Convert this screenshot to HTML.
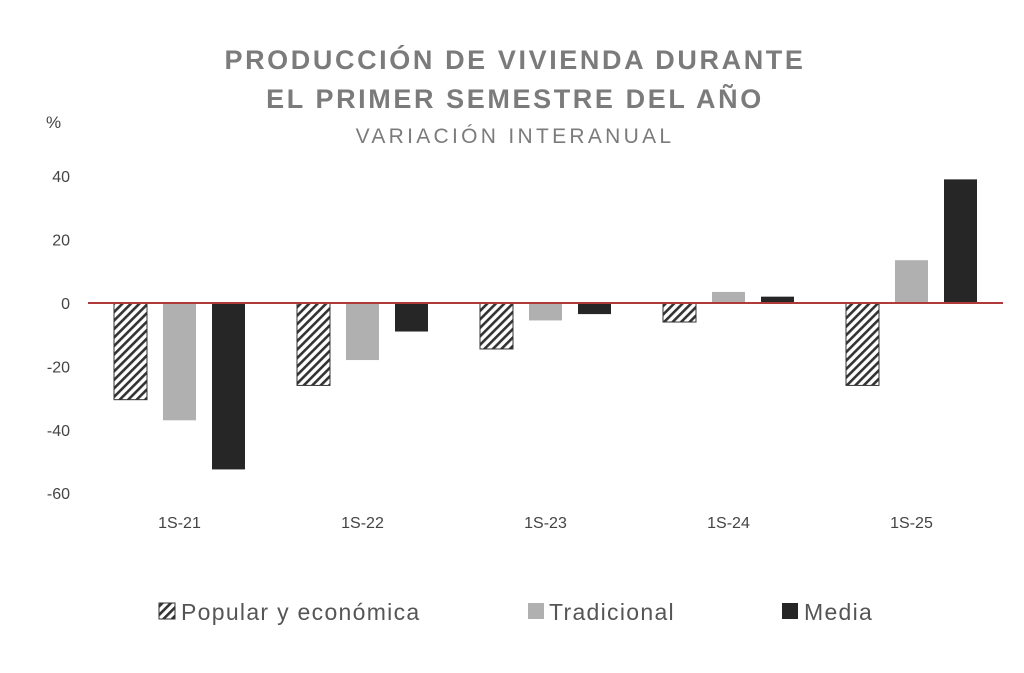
<!DOCTYPE html>
<html><head><meta charset="utf-8"><style>
body{margin:0;background:#fff;}
svg{display:block;font-family:"Liberation Sans",sans-serif;}
</style></head><body>
<svg id="chart" width="1024" height="673" viewBox="0 0 1024 673">
<defs>
<pattern id="hatch" patternUnits="userSpaceOnUse" width="6" height="6" patternTransform="rotate(45)">
<rect width="6" height="6" fill="#fff"/><rect width="2.6" height="6" fill="#333"/>
</pattern>
</defs>
<g fill="#7b7b7b" text-anchor="middle">
<text x="515" y="69" font-size="27" font-weight="bold" letter-spacing="2.6">PRODUCCIÓN DE VIVIENDA DURANTE</text>
<text x="515" y="108" font-size="27" font-weight="bold" letter-spacing="2.6">EL PRIMER SEMESTRE DEL AÑO</text>
<text x="515" y="143" font-size="21" letter-spacing="3.3">VARIACIÓN INTERANUAL</text>
</g>
<text x="46" y="128" font-size="17" fill="#444">%</text>
<g id="yaxis"></g>
<g id="bars"></g>
<g id="xaxis"></g>
<g font-size="23" fill="#555" letter-spacing="1.3">
<g><rect x="159" y="603" width="16" height="16" fill="url(#hatch)" stroke="#333" stroke-width="1"/><text x="181" y="620">Popular y económica</text></g>
<g><rect x="528" y="603" width="16" height="16" fill="#b0b0b0"/><text x="549" y="620">Tradicional</text></g>
<g><rect x="782" y="603" width="16" height="16" fill="#262626"/><text x="804" y="620">Media</text></g>
</g>
</svg>
<script>
const categories=["1S-21","1S-22","1S-23","1S-24","1S-25"];
const popular=[-30.5,-26,-14.5,-6,-26];
const tradicional=[-37,-18,-5.5,3.5,13.5];
const media=[-52.5,-9,-3.5,2,39];
const yTicks=[40,20,0,-20,-40,-60];
const NS="http://www.w3.org/2000/svg";
const x0=88,x1=1003,band=(x1-x0)/categories.length;
function y(v){return 303-v*3.17;}
function mk(t,a,p){const e=document.createElementNS(NS,t);for(const k in a)e.setAttribute(k,a[k]);p.appendChild(e);return e;}
const ya=document.getElementById('yaxis'),ba=document.getElementById('bars'),xa=document.getElementById('xaxis');
yTicks.forEach(v=>{const t=mk('text',{x:70,y:y(v)+6,'text-anchor':'end','font-size':16,fill:'#444'},ya);t.textContent=v;

});
const series=[[popular,'url(#hatch)','popular'],[tradicional,'#b0b0b0','tradicional'],[media,'#262626','media']];
const bw=33,step=49;
categories.forEach((c,i)=>{const cx=x0+band*(i+0.5);
series.forEach((s,j)=>{const v=s[0][i];const bx=cx-step+j*step-bw/2;
const r=mk('rect',{x:bx,y:Math.min(y(v),y(0)),width:bw,height:Math.abs(y(v)-y(0)),fill:s[1]},ba);
if(j==0){r.setAttribute('stroke','#333');r.setAttribute('stroke-width','1');}

});
const t=mk('text',{x:cx,y:528,'text-anchor':'middle','font-size':16,fill:'#444'},xa);t.textContent=c;

});
const zl=mk('line',{x1:x0,x2:x1,y1:y(0),y2:y(0),stroke:'#b03a3a','stroke-width':2},xa);


</script>
</body></html>
